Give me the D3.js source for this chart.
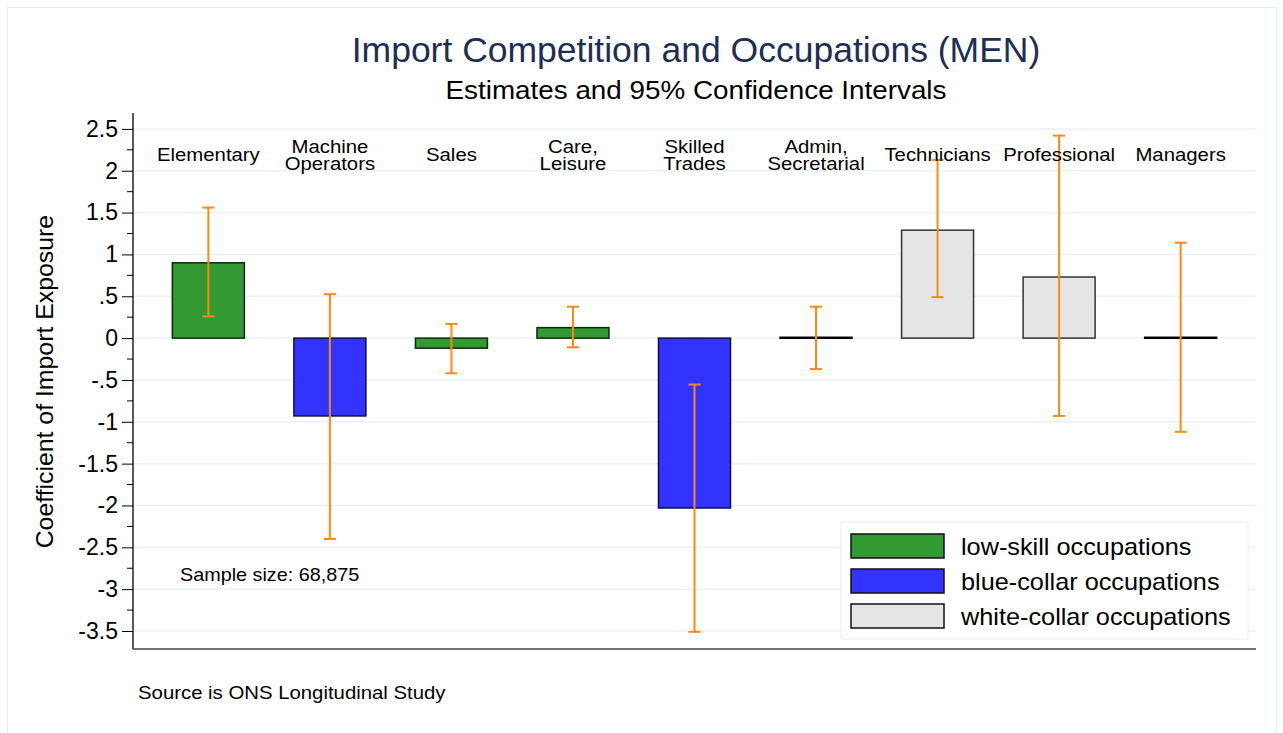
<!DOCTYPE html>
<html>
<head>
<meta charset="utf-8">
<script src="https://cdn.jsdelivr.net/npm/d3@7"></script>
<style>
  body { margin: 0; background: #fff; }
  text { font-family: Arial, "Liberation Sans", sans-serif; }
</style>
</head>
<body>
<div id="chart"></div>
<script>
// data
var occupations = [["Elementary"], ["Machine", "Operators"], ["Sales"], ["Care,", "Leisure"],
  ["Skilled", "Trades"], ["Admin,", "Secretarial"], ["Technicians"], ["Professional"], ["Managers"]];
var groups = ["low", "blue", "low", "low", "blue", "white", "white", "white", "white"];
var estimates = [0.90, -0.93, -0.12, 0.125, -2.03, 0.01, 1.29, 0.73, 0.01];
var ciLow = [0.26, -2.40, -0.42, -0.11, -3.51, -0.37, 0.49, -0.93, -1.12];
var ciHigh = [1.56, 0.525, 0.17, 0.375, -0.555, 0.375, 2.13, 2.42, 1.14];
var yTicks = [2.5, 2, 1.5, 1, 0.5, 0, -0.5, -1, -1.5, -2, -2.5, -3, -3.5];
var legendKeys = ["low", "blue", "white"];
var legendLabels = ["low-skill occupations", "blue-collar occupations", "white-collar occupations"];

var fills = {low: "#339933", blue: "#3333ff", white: "#e5e5e5"};
var strokes = {low: "#0d2a0d", blue: "#0d0d4d", white: "#333333"};

var W = 1283, H = 733;
var margin = {top: 113, right: 27, bottom: 84, left: 133},
    width = W - margin.left - margin.right,
    height = H - margin.top - margin.bottom;

var svg = d3.select("#chart").append("svg")
    .attr("width", W).attr("height", H);

// outer frame
svg.append("rect")
  .attr("x", 7.5).attr("y", 7.5).attr("width", 1269).attr("height", 740)
  .attr("fill", "#fff").attr("stroke", "#e4eded");

var g = svg.append("g")
  .attr("transform", "translate(" + margin.left + "," + margin.top + ")");

var x = d3.scalePoint()
  .domain(d3.range(occupations.length))
  .range([0, width])
  .padding(0.62);
var barW = 72;

var y = d3.scaleLinear()
  .domain([-3.715, 2.69])
  .range([height, 0]);

// gridlines
g.append("g").selectAll("line")
  .data(yTicks).enter().append("line")
  .attr("x1", 0).attr("x2", width)
  .attr("y1", function(d) { return y(d); })
  .attr("y2", function(d) { return y(d); })
  .attr("stroke", "#eaf1f2").attr("stroke-width", 1.5);

// y axis, stata style labels (-.5, .5)
var fmt = function(d) {
  var s = String(d);
  return s.replace(/^(-?)0\./, "$1.");
};
var yAxis = g.append("g")
  .call(d3.axisLeft(y).tickValues(yTicks).tickSize(11).tickPadding(4).tickFormat(fmt));
yAxis.select(".domain").attr("stroke", "#000").attr("stroke-width", 1.3)
  .attr("d", "M0,0V" + height);
yAxis.selectAll(".tick line").attr("stroke", "#000");
yAxis.selectAll(".tick text").attr("font-size", 23).attr("fill", "#000")
  .attr("font-family", "Arial, 'Liberation Sans', sans-serif");

// minor ticks
var minor = d3.range(-3.25, 2.6, 0.5);
g.append("g").selectAll("line")
  .data(minor).enter().append("line")
  .attr("x1", -6).attr("x2", 0)
  .attr("y1", function(d) { return y(d); })
  .attr("y2", function(d) { return y(d); })
  .attr("stroke", "#000");

// x axis line
g.append("line")
  .attr("x1", 0).attr("x2", width)
  .attr("y1", height).attr("y2", height)
  .attr("stroke", "#444").attr("stroke-width", 1.5);

// bars
g.append("g").selectAll("rect")
  .data(estimates).enter().append("rect")
  .attr("x", function(d, i) { return x(i) - barW / 2; })
  .attr("y", function(d) { return y(Math.max(0, d)); })
  .attr("width", barW)
  .attr("height", function(d) { return Math.max(1, Math.abs(y(d) - y(0))); })
  .attr("fill", function(d, i) { return Math.abs(d) < 0.02 ? "#000" : fills[groups[i]]; })
  .attr("stroke", function(d, i) { return Math.abs(d) < 0.02 ? "#000" : strokes[groups[i]]; })
  .attr("stroke-width", 1.5);

// error bars
var eb = g.append("g").selectAll("g")
  .data(estimates).enter().append("g")
  .attr("stroke", "#ff8811").attr("stroke-width", 2);
eb.append("line")
  .attr("x1", function(d, i) { return x(i); })
  .attr("x2", function(d, i) { return x(i); })
  .attr("y1", function(d, i) { return y(ciLow[i]); })
  .attr("y2", function(d, i) { return y(ciHigh[i]); });
eb.append("line")
  .attr("x1", function(d, i) { return x(i) - 6; })
  .attr("x2", function(d, i) { return x(i) + 6; })
  .attr("y1", function(d, i) { return y(ciHigh[i]); })
  .attr("y2", function(d, i) { return y(ciHigh[i]); });
eb.append("line")
  .attr("x1", function(d, i) { return x(i) - 6; })
  .attr("x2", function(d, i) { return x(i) + 6; })
  .attr("y1", function(d, i) { return y(ciLow[i]); })
  .attr("y2", function(d, i) { return y(ciLow[i]); });

// category labels (slightly wide glyphs like the stata export)
var lab = g.append("g").selectAll("g")
  .data(occupations).enter().append("g")
  .attr("transform", function(d, i) {
    return "translate(" + x(i) + "," + (d.length > 1 ? 40 : 48) + ") scale(1.1,1)";
  });
lab.selectAll("text")
  .data(function(d) { return d; }).enter().append("text")
  .attr("text-anchor", "middle")
  .attr("font-size", 18.5)
  .attr("y", function(d, i) { return i * 16.5; })
  .text(function(d) { return d; });

// sample size
g.append("text")
  .attr("transform", "translate(47," + y(-2.9) + ") scale(1.1,1)")
  .attr("font-size", 18)
  .text("Sample size: 68,875");

// legend
var legend = svg.append("g").attr("transform", "translate(841,522)");
legend.append("rect")
  .attr("width", 407).attr("height", 117)
  .attr("fill", "#fff").attr("stroke", "#e4eded");
var li = legend.selectAll("g.item")
  .data(legendKeys).enter().append("g")
  .attr("transform", function(d, i) { return "translate(10," + (12 + i * 35) + ")"; });
li.append("rect")
  .attr("width", 93).attr("height", 24)
  .attr("fill", function(d) { return fills[d]; })
  .attr("stroke", "#111").attr("stroke-width", 1.5);
li.append("text")
  .attr("transform", "translate(110,21) scale(1.1,1)")
  .attr("font-size", 23)
  .text(function(d, i) { return legendLabels[i]; });

// titles
svg.append("text")
  .attr("x", 696).attr("y", 62)
  .attr("text-anchor", "middle")
  .attr("font-size", 35.5)
  .attr("fill", "#1e2e55")
  .text("Import Competition and Occupations (MEN)");
svg.append("text")
  .attr("transform", "translate(696,99) scale(1.1,1)")
  .attr("text-anchor", "middle")
  .attr("font-size", 25.3)
  .text("Estimates and 95% Confidence Intervals");

// y axis title
svg.append("text")
  .attr("transform", "translate(53," + (margin.top + y(-0.52)) + ") rotate(-90) scale(1.08,1)")
  .attr("text-anchor", "middle")
  .attr("font-size", 23)
  .text("Coefficient of Import Exposure");

// note
svg.append("text")
  .attr("transform", "translate(138,699) scale(1.1,1)")
  .attr("font-size", 18.5)
  .text("Source is ONS Longitudinal Study");
</script>
</body>
</html>
